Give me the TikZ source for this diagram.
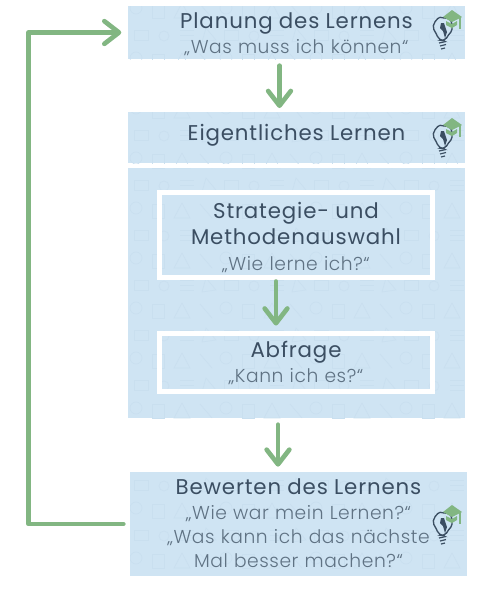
\documentclass[tikz,border=0pt]{standalone}
\usepackage{fontspec}
\setmainfont{Poppins}
\usetikzlibrary{arrows.meta,backgrounds}
\definecolor{boxBlue}{HTML}{CFE4F3}
\definecolor{doodleBlue}{HTML}{C9DFEF}
\definecolor{arrowGreen}{HTML}{82B682}
\definecolor{titleInk}{HTML}{3B4E62}
\definecolor{quoteInk}{HTML}{5F7283}
\setlength{\normallineskiplimit}{-20pt}
\setlength{\lineskiplimit}{-20pt}
\newfontfamily\titleFace[LetterSpace=4]{Poppins}
\newfontfamily\quoteFace[LetterSpace=3,UprightFont={* Light}]{Poppins}
\newcommand{\lernDrop}{0pt}
\newcommand{\lernTitle}[1]{\raisebox{-\lernDrop}[12pt][3pt]{\fontsize{16}{18.75}\titleFace\color{titleInk}#1}}
\newcommand{\lernQuote}[1]{\raisebox{-\lernDrop}[12pt][3pt]{\fontsize{14}{18.75}\quoteFace\color{quoteInk}#1}}
\newcommand{\doodleTile}{%
  \draw (8,8) circle (6);
  \draw (24,4) rectangle (36,18);
  \draw (46,18) -- (54,3) -- (62,18) -- cycle;
  \draw (72,4) -- (84,18);
  \draw (6,30) rectangle (20,40);
  \draw (36,36) circle (5);
  \draw (52,30) -- (66,30) (52,35) -- (66,35) (52,40) -- (66,40);
  \draw (78,28) -- (88,40) -- (74,42) -- cycle;
}
\tikzset{
  pics/lernIcon/.style={code={
    % bulb
    \draw[iconInk, line width=1pt, rounded corners=3pt]
      (439,40) -- (436,33) .. controls (431,25) and (438,17) .. (444,18)
      .. controls (453,19) and (453,30) .. (448,35) -- (445,41) -- cycle;
    \draw[iconInk, line width=0.9pt] (439,43) -- (446,41.5) (440,46) -- (446,44.5) (441,49) -- (445,48);
    % filament
    \fill[titleInk] (441,23) -- (444,23) -- (447,32) -- (445,38) -- (443,31) -- (440,28) -- cycle;
    % cap
    \fill[arrowGreen] (452,10) -- (462,17) -- (452,22) -- (443,17) -- cycle;
    \fill[arrowGreen] (446,21) -- (452,24) -- (457,21) -- (457,25) -- (452,28) -- (446,25) -- cycle;
    \draw[arrowGreen, line width=1.2pt] (460,17) -- (460,29);
  }},
  iconInk/.style={draw=titleInk, fill=none},
  textDrop/.style={execute at begin node={\renewcommand{\lernDrop}{#1}}},
}
\begin{document}
\begin{tikzpicture}[
    x=0.75pt, y=-0.75pt,
    lernBox/.style={inner sep=0pt, outer sep=0pt, align=center, text width=335*0.75pt,
      font=\fontsize{14}{18.75}\selectfont},
    innerBox/.style={draw=white, line width=3.6pt, inner sep=0pt, outer sep=0pt, align=center,
      text width=260*0.75pt, font=\fontsize{14}{18.75}\selectfont},
    flowArrow/.style={draw=arrowGreen, line width=3.5pt, line cap=round, line join=round,
      -{Straight Barb[length=11pt, width=17pt, line width=3.5pt, round]}},
]
\useasboundingbox (0,0) rectangle (490,601);

% Boxes
\node[lernBox, textDrop=1.5pt, minimum width=337*0.75pt, minimum height=53*0.75pt] (planung) at (296.5,32.5)
  {\lernTitle{Planung des Lernens}\\\lernQuote{„Was muss ich können“}};
\node[lernBox, textDrop=-1.9pt, minimum width=337*0.75pt, minimum height=51*0.75pt] (lernen) at (296.5,137.5)
  {\lernTitle{Eigentliches Lernen}};
\node[lernBox, minimum width=337*0.75pt, minimum height=250*0.75pt] (feld) at (296.5,293) {};
\node[lernBox, textDrop=0.4pt, minimum width=337*0.75pt, minimum height=104*0.75pt] (bewerten) at (298.5,524)
  {\lernTitle{Bewerten des Lernens}\\\lernQuote{„Wie war mein Lernen?“}\\[-0.75pt]\lernQuote{„Was kann ich das nächste}\\[-0.75pt]\lernQuote{Mal besser machen?“}};

% Inner boxes
\node[innerBox, textDrop=2.25pt, minimum width=273*0.75pt, minimum height=85*0.75pt] (strategie) at (296,235)
  {\lernTitle{Strategie- und}\\[0.75pt]\lernTitle{Methodenauswahl}\\[0.75pt]\lernQuote{„Wie lerne ich?“}};
\node[innerBox, textDrop=1.3pt, minimum width=273*0.75pt, minimum height=58*0.75pt] (abfrage) at (296,362.5)
  {\lernTitle{Abfrage}\\\lernQuote{„Kann ich es?“}};

% Box fill and doodles
\begin{scope}[on background layer]
\foreach \boxName in {planung,lernen,feld,bewerten} {
  \fill[boxBlue] (\boxName.north west) rectangle (\boxName.south east);
  \begin{scope}[doodleBlue, line width=0.5pt]
  \clip (\boxName.north west) rectangle (\boxName.south east);
  \foreach \tileX in {128,218,308,398}
    \foreach \tileY in {0,50,...,550}
      \begin{scope}[shift={(\tileX,\tileY)}]
      \doodleTile
      \end{scope};
  \end{scope}
}
\end{scope}

% Icons
\pic at (0,0) {lernIcon};
\pic at (0,108) {lernIcon};
\pic at (0,495) {lernIcon};

% Arrows
\draw[flowArrow, shorten <=5pt, shorten >=3pt] (279.5,0 |- planung.south) -- (279.5,0 |- lernen.north);
\draw[flowArrow, shorten <=3pt, shorten >=6pt] (276,0 |- strategie.south) -- (276,0 |- abfrage.north);
\draw[flowArrow, shorten <=5pt, shorten >=4pt] (278,0 |- feld.south) -- (278,0 |- bewerten.north);
\draw[flowArrow, shorten <=5pt, shorten >=5pt] (bewerten.west) -- (28.5,0 |- bewerten.west) |- (planung.west);
\end{tikzpicture}
\end{document}
